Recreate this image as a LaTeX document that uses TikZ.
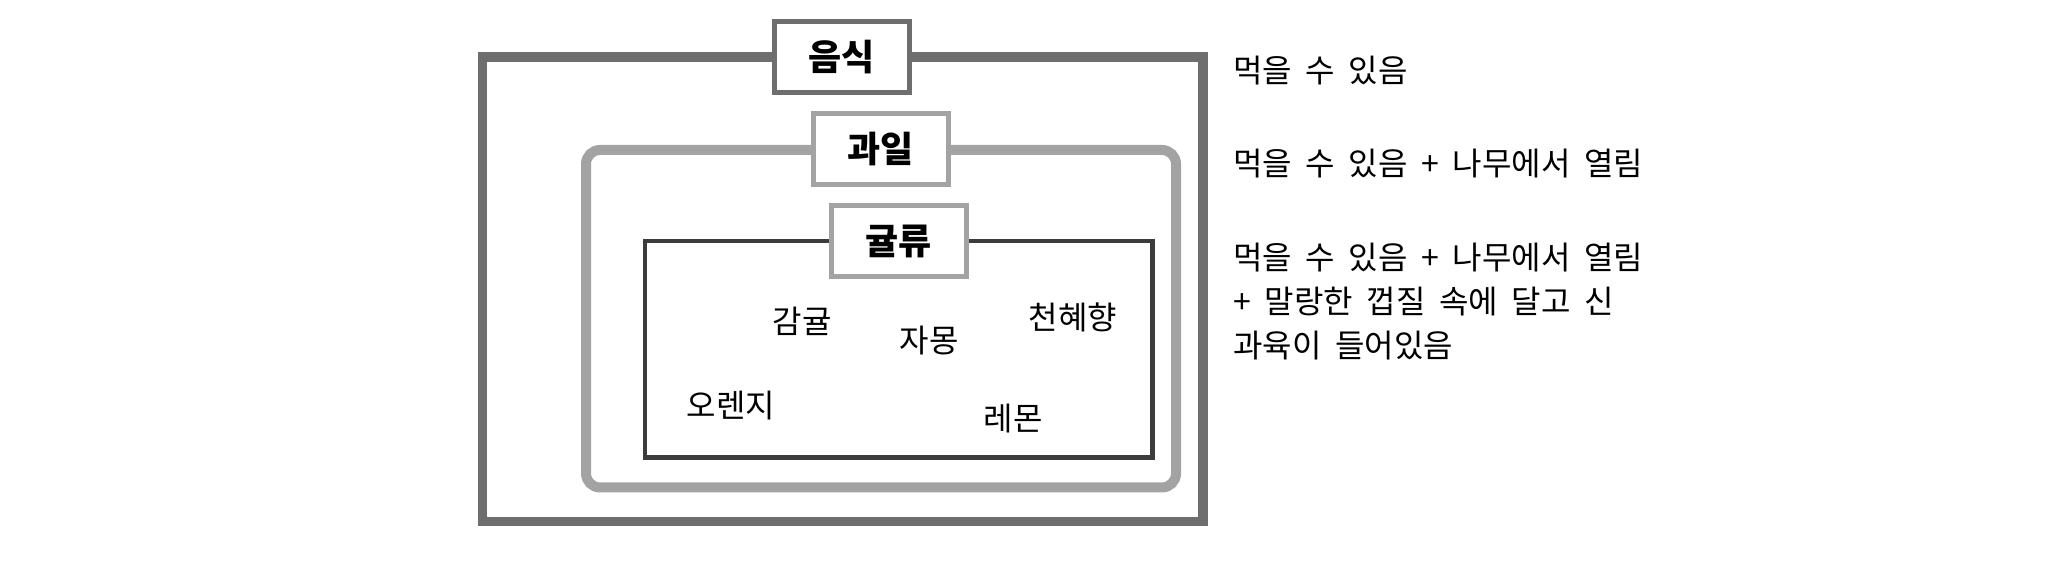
\documentclass[tikz,border=0pt]{standalone}
\usepackage{fontspec}
\setmainfont[WordSpace=1.9]{Noto Sans CJK KR}
\definecolor{outerc}{HTML}{6E6E6E}
\definecolor{fruitc}{HTML}{A3A3A3}
\definecolor{citrc}{HTML}{3C3C3C}
\tikzset{
  frame/.style={draw, fill=none},
  tagbox/.style={draw, fill=white, line width=2.5pt, minimum width=67.5pt, minimum height=35.5pt, inner sep=0pt, font=\fontsize{18}{20}\selectfont\bfseries},
  item/.style={font=\fontsize{16}{18}\selectfont, inner sep=0pt},
  desc/.style={font=\fontsize{16}{22}\selectfont, inner sep=0pt, anchor=west, align=left},
}
\begin{document}
\begin{tikzpicture}[x=0.5pt,y=-0.5pt]
\useasboundingbox (0,0) rectangle (2057,565);
% outer frame: food
\draw[frame, color=outerc, line width=4.75pt] (482.5,57) rectangle (1203,521.5);
% fruit frame
\draw[frame, color=fruitc, line width=5pt, rounded corners=7pt] (586,150) rectangle (1176,487.5);
% citrus frame
\draw[frame, color=citrc, line width=2.25pt] (645,241) rectangle (1152.5,457.5);
% tags
\node[tagbox, draw=outerc] (food) at (841.5,57) {음식};
\node[tagbox, draw=fruitc] (fruit) at (880.5,149) {과일};
\node[tagbox, draw=fruitc] (citrus) at (898.5,241.5) {귤류};
% items
\node[item] (gamgyul) at (802,321) {감귤};
\node[item] (jamong) at (929,341) {자몽};
\node[item] (cheon) at (1073,317) {천혜향};
\node[item] (orange) at (731,406) {오렌지};
\node[item] (lemon) at (1013,419) {레몬};
% descriptions
\node[desc] (d1) at (1233,71) {먹을 수 있음};
\node[desc] (d2) at (1233,164) {먹을 수 있음 + 나무에서 열림};
\node[desc, anchor=north west] (d3) at (1233,243) {먹을 수 있음 + 나무에서 열림\\+ 말랑한 껍질 속에 달고 신\\과육이 들어있음};
\end{tikzpicture}
\end{document}
